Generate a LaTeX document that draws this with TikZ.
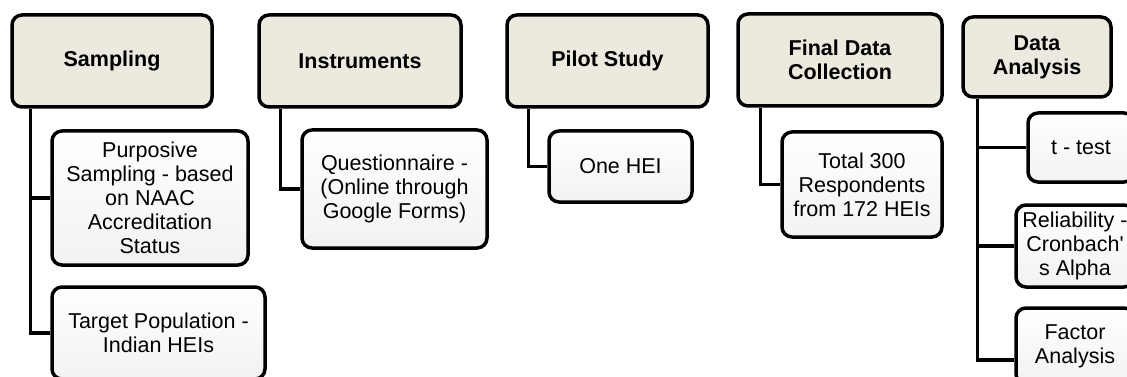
\documentclass[tikz,border=0pt]{standalone}
\usepackage{fontspec}
\setmainfont{Liberation Sans}
\usepackage{tikz}
\usetikzlibrary{calc}
\definecolor{headfill}{RGB}{236,233,223}

\begin{document}
\begin{tikzpicture}[x=1pt, y=-1pt, font=\fontsize{21.5}{24}\selectfont,
		head/.style={draw, line width=3.5pt, rounded corners=10pt, fill=headfill, align=center, inner sep=0pt, font=\fontsize{21.5}{24}\selectfont\bfseries},
		leaf/.style={draw, line width=3.5pt, rounded corners=10pt, top color=white, bottom color=black!5, align=center, inner sep=0pt},
		conn/.style={line width=3.5pt}]
			\useasboundingbox (0,0) rectangle (1127,377);
			\clip (0,0) rectangle (1127,377);
			\node[head, minimum width=200, minimum height=92] (samp) at (112,61) {Sampling};
			\node[head, minimum width=202, minimum height=92] (inst) at (360,61) {Instruments};
			\node[head, minimum width=201, minimum height=92] (pilot) at (607.5,61) {Pilot Study};
			\node[head, minimum width=204, minimum height=92] (final) at (840,60) {Final Data\\Collection};
			\node[head, minimum width=148, minimum height=80] (anal) at (1037,57) {Data\\Analysis};
			\node[leaf, minimum width=196, minimum height=134] (purp) at (150,198) {Purposive\\Sampling - based\\on NAAC\\Accreditation\\Status};
			\node[leaf, minimum width=213, minimum height=92] (targ) at (158.5,333) {Target Population -\\Indian HEIs};
			\node[leaf, minimum width=185, minimum height=118] (quest) at (394.5,189) {Questionnaire -\\(Online through\\Google Forms)};
			\node[leaf, minimum width=143, minimum height=71] (onehei) at (620.5,166.5) {One HEI};
			\node[leaf, minimum width=160, minimum height=105] (total) at (862,184.5) {Total 300\\Respondents\\from 172 HEIs};
			\node[leaf, minimum width=106, minimum height=69] (ttest) at (1081,147.5) {t - test};
			\node[leaf, minimum width=118, minimum height=82] (reli) at (1075,246) {Reliability -\\Cronbach\textquotesingle\\s Alpha};
			\node[leaf, minimum width=118, minimum height=76] (fact) at (1075,346) {Factor\\Analysis};
			\draw[conn] ($(samp.south west)+(20,0)$) |- (purp.west);
			\draw[conn] ($(samp.south west)+(20,0)$) |- (targ.west);
			\draw[conn] ($(inst.south west)+(23,0)$) |- (quest.west);
			\draw[conn] ($(pilot.south west)+(23,0)$) |- (onehei.west);
			\draw[conn] ($(final.south west)+(24,0)$) |- (total.west);
			\draw[conn] ($(anal.south west)+(16,0)$) |- (ttest.west);
			\draw[conn] ($(anal.south west)+(16,0)$) |- (reli.west);
			\draw[conn] ($(anal.south west)+(16,0)$) |- ($(fact.west)+(0,14)$);
		\end{tikzpicture}
\end{document}
